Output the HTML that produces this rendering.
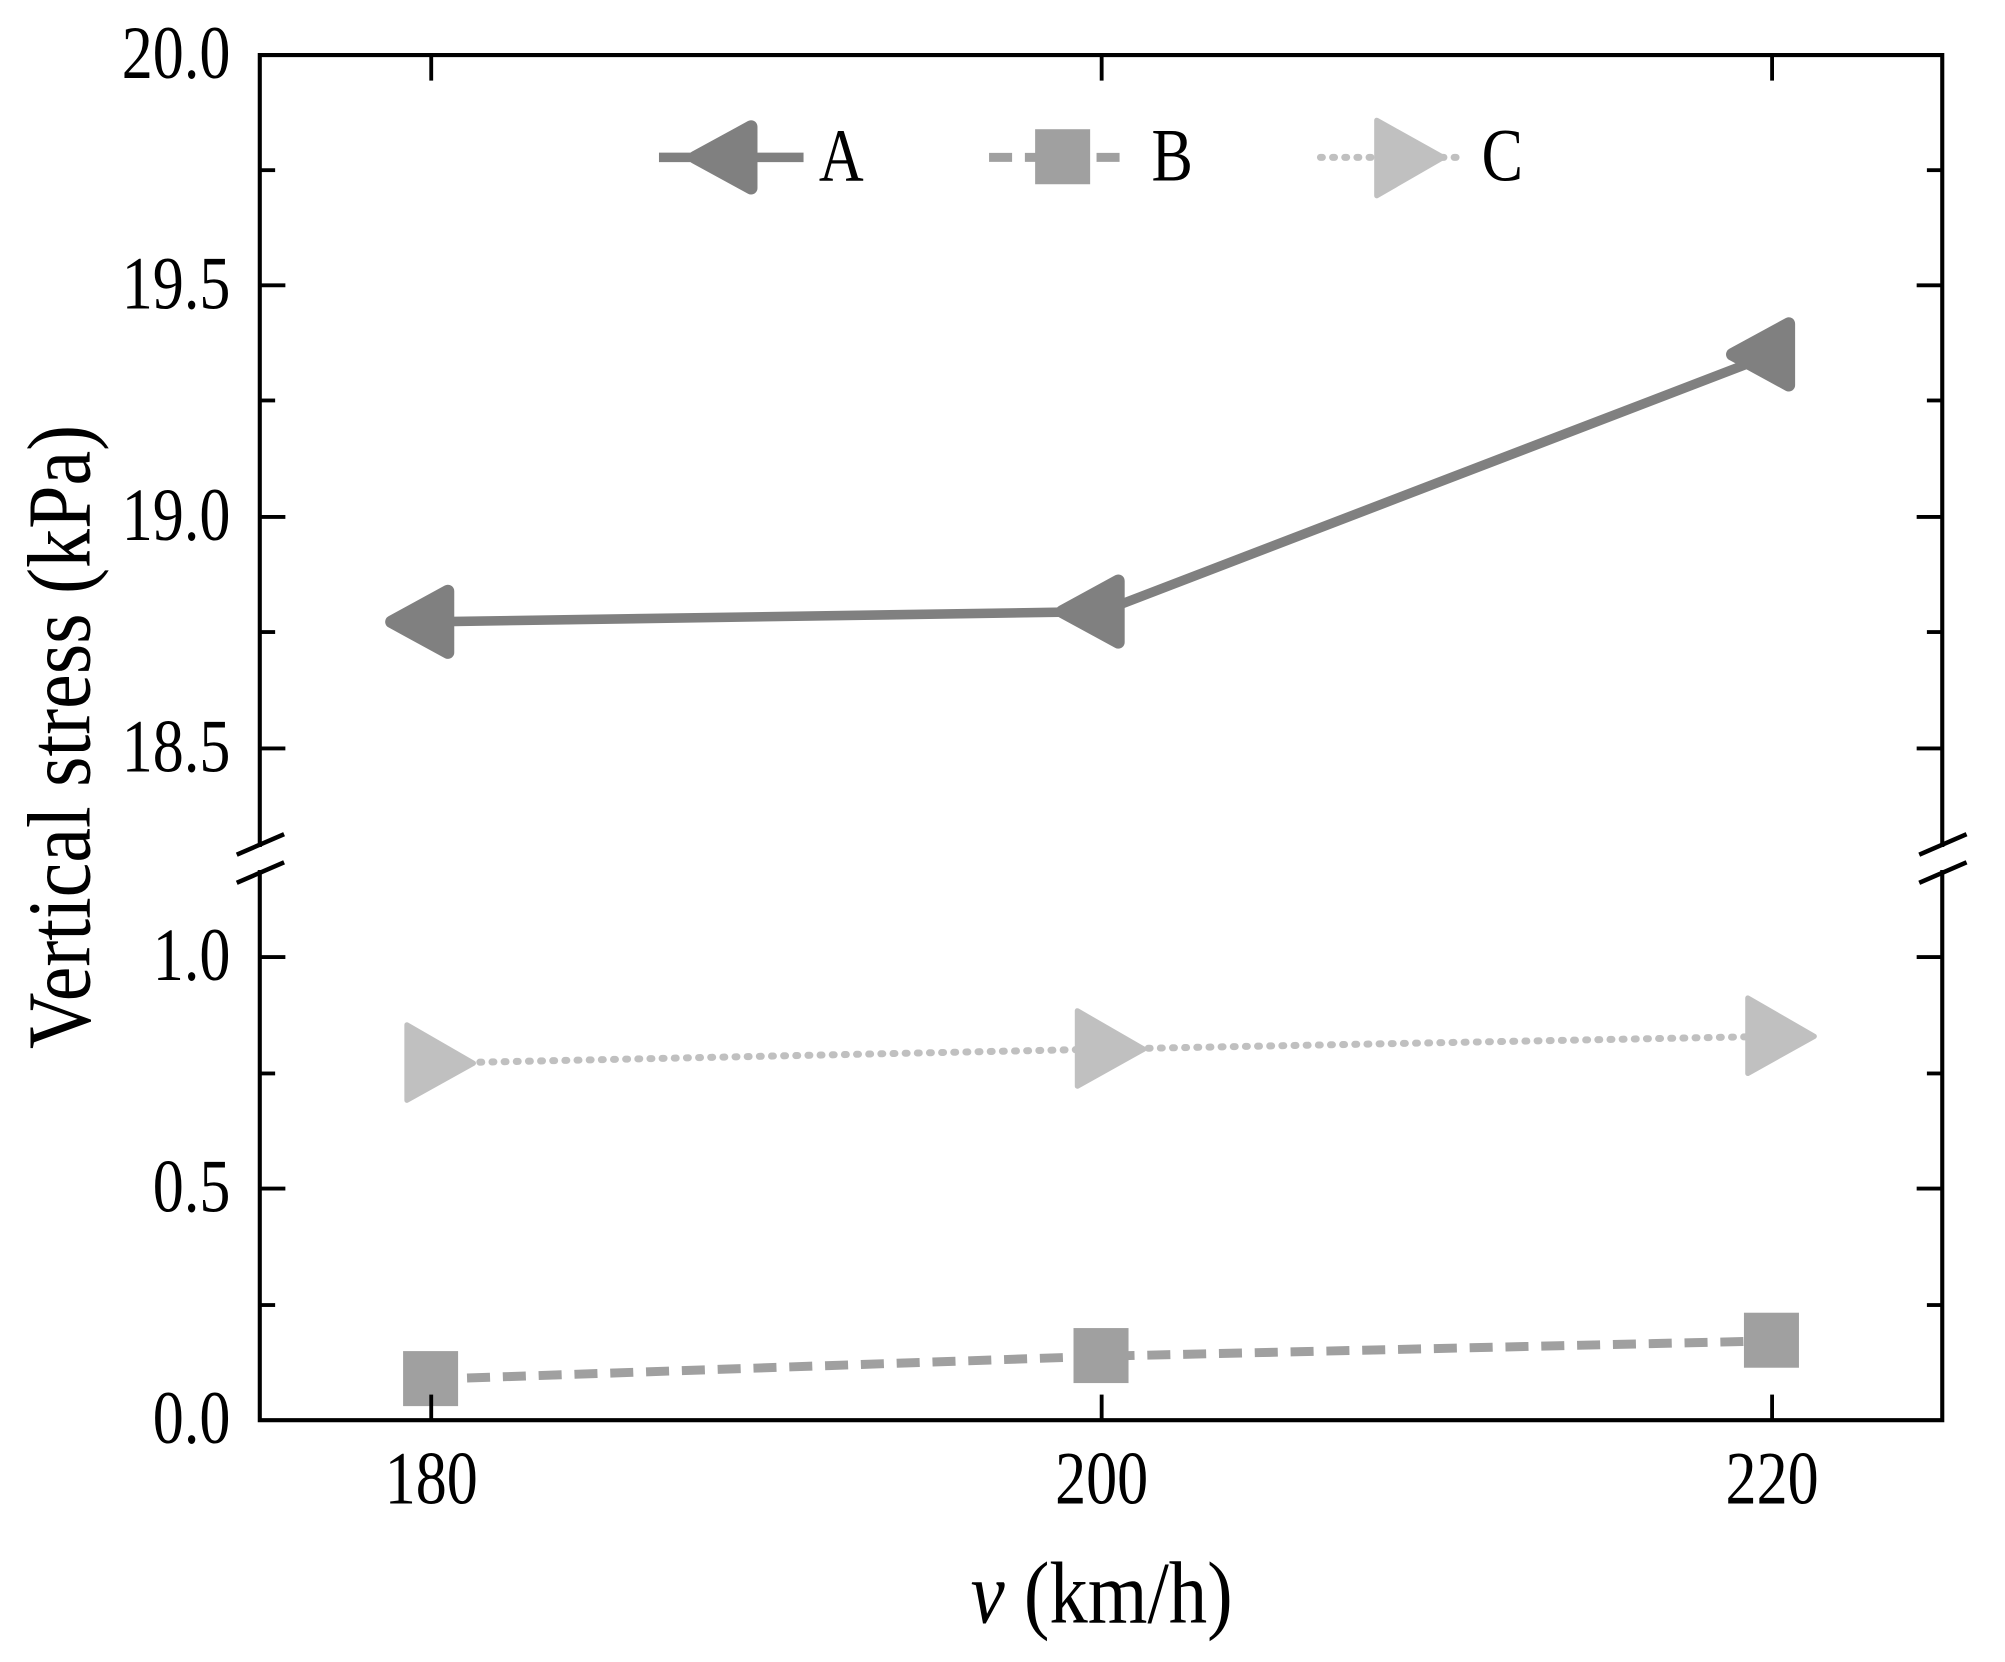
<!DOCTYPE html>
<html><head><meta charset="utf-8"><style>html,body{margin:0;padding:0;background:#fff}svg{display:block}</style></head>
<body>
<svg width="2005" height="1662" viewBox="0 0 1567 1299" xmlns="http://www.w3.org/2000/svg" font-family="Liberation Serif, serif">
<rect width="1567" height="1299" fill="#fff"/>
<!-- series C -->
<polyline points="337,831 861,820 1385,810" fill="none" stroke="#c0c0c0" stroke-width="5.5" stroke-dasharray="1.5 8" stroke-linecap="round"/>
<g fill="#c0c0c0">
<path d="M318,801 L318,860 L370,831 Z" stroke="#c0c0c0" stroke-width="4" stroke-linejoin="round"/>
<path d="M842,790 L842,849 L894,820 Z" stroke="#c0c0c0" stroke-width="4" stroke-linejoin="round"/>
<path d="M1366,780 L1366,839 L1418,810 Z" stroke="#c0c0c0" stroke-width="4" stroke-linejoin="round"/>
</g>
<!-- series B -->
<polyline points="337,1078 861,1060 1385,1048" fill="none" stroke="#a0a0a0" stroke-width="7" stroke-dasharray="18 10"/>
<g fill="#a0a0a0">
<rect x="315" y="1056" width="43" height="43"/>
<rect x="839" y="1038" width="43" height="43"/>
<rect x="1363" y="1026" width="43" height="43"/>
</g>
<!-- series A -->
<polyline points="337,486 861,478 1385,277" fill="none" stroke="#808080" stroke-width="7.5"/>
<g fill="#808080" stroke="#808080" stroke-width="10" stroke-linejoin="round">
<path d="M306,486 L350,462 L350,510 Z"/>
<path d="M830,478 L874,454 L874,502 Z"/>
<path d="M1354,277 L1398,253 L1398,301 Z"/>
</g>
<!-- axes frame -->
<g stroke="#000" stroke-width="3.2" fill="none">
<path d="M203,43 L1518,43 L1518,1110 L203,1110 Z"/>
</g>
<!-- break -->
<rect x="180" y="662" width="45" height="18" fill="#fff"/>
<rect x="1495" y="662" width="45" height="18" fill="#fff"/>
<g stroke="#000" stroke-width="3.5">
<line x1="185" y1="668" x2="222" y2="652"/>
<line x1="185" y1="690" x2="222" y2="674"/>
<line x1="1500" y1="668" x2="1537" y2="652"/>
<line x1="1500" y1="690" x2="1537" y2="674"/>
</g>
<!-- ticks -->
<g stroke="#000" stroke-width="3">
<line x1="203" y1="223" x2="223" y2="223"/><line x1="1518" y1="223" x2="1498" y2="223"/>
<line x1="203" y1="404" x2="223" y2="404"/><line x1="1518" y1="404" x2="1498" y2="404"/>
<line x1="203" y1="585" x2="223" y2="585"/><line x1="1518" y1="585" x2="1498" y2="585"/>
<line x1="203" y1="748" x2="223" y2="748"/><line x1="1518" y1="748" x2="1498" y2="748"/>
<line x1="203" y1="929" x2="223" y2="929"/><line x1="1518" y1="929" x2="1498" y2="929"/>
<line x1="203" y1="133" x2="215" y2="133"/><line x1="1518" y1="133" x2="1506" y2="133"/>
<line x1="203" y1="313" x2="215" y2="313"/><line x1="1518" y1="313" x2="1506" y2="313"/>
<line x1="203" y1="494" x2="215" y2="494"/><line x1="1518" y1="494" x2="1506" y2="494"/>
<line x1="203" y1="1020" x2="215" y2="1020"/><line x1="1518" y1="1020" x2="1506" y2="1020"/>
<line x1="203" y1="839" x2="215" y2="839"/><line x1="1518" y1="839" x2="1506" y2="839"/>
<line x1="337" y1="1110" x2="337" y2="1090"/><line x1="337" y1="43" x2="337" y2="63"/>
<line x1="861" y1="1110" x2="861" y2="1090"/><line x1="861" y1="43" x2="861" y2="63"/>
<line x1="1385" y1="1110" x2="1385" y2="1090"/><line x1="1385" y1="43" x2="1385" y2="63"/>
</g>
<!-- tick labels -->
<g font-size="50" text-anchor="end" fill="#000">
<text transform="translate(180 61) scale(0.97 1.18)">20.0</text>
<text transform="translate(180 241) scale(0.97 1.18)">19.5</text>
<text transform="translate(180 422) scale(0.97 1.18)">19.0</text>
<text transform="translate(180 603) scale(0.97 1.18)">18.5</text>
<text transform="translate(180 766) scale(0.97 1.18)">1.0</text>
<text transform="translate(180 947) scale(0.97 1.18)">0.5</text>
<text transform="translate(180 1128) scale(0.97 1.18)">0.0</text>
</g>
<g font-size="50" text-anchor="middle" fill="#000">
<text transform="translate(337 1175) scale(0.97 1.18)">180</text>
<text transform="translate(861 1175) scale(0.97 1.18)">200</text>
<text transform="translate(1385 1175) scale(0.97 1.18)">220</text>
</g>
<text transform="translate(861 1268) scale(1 1.15)" font-size="60" text-anchor="middle"><tspan font-style="italic">v</tspan> (km/h)</text>
<text transform="translate(70 576) rotate(-90) scale(1 1.15)" font-size="61" text-anchor="middle">Vertical stress (kPa)</text>
<!-- legend -->
<line x1="515" y1="123" x2="628" y2="123" stroke="#808080" stroke-width="7.5"/>
<path d="M543,123 L587,99 L587,147 Z" fill="#808080" stroke="#808080" stroke-width="10" stroke-linejoin="round"/>
<text transform="translate(640 141) scale(0.97 1.18)" font-size="50">A</text>
<line x1="773" y1="123" x2="880" y2="123" stroke="#a0a0a0" stroke-width="7" stroke-dasharray="18 10"/>
<rect x="809" y="101" width="43" height="43" fill="#a0a0a0"/>
<text transform="translate(900 141) scale(0.97 1.18)" font-size="50">B</text>
<line x1="1032" y1="123" x2="1140" y2="123" stroke="#c0c0c0" stroke-width="5.5" stroke-dasharray="1.5 8" stroke-linecap="round"/>
<path d="M1076,94 L1076,153 L1128,123 Z" fill="#c0c0c0" stroke="#c0c0c0" stroke-width="4" stroke-linejoin="round"/>
<text transform="translate(1158 141) scale(0.97 1.18)" font-size="50">C</text>
</svg>
</body></html>
